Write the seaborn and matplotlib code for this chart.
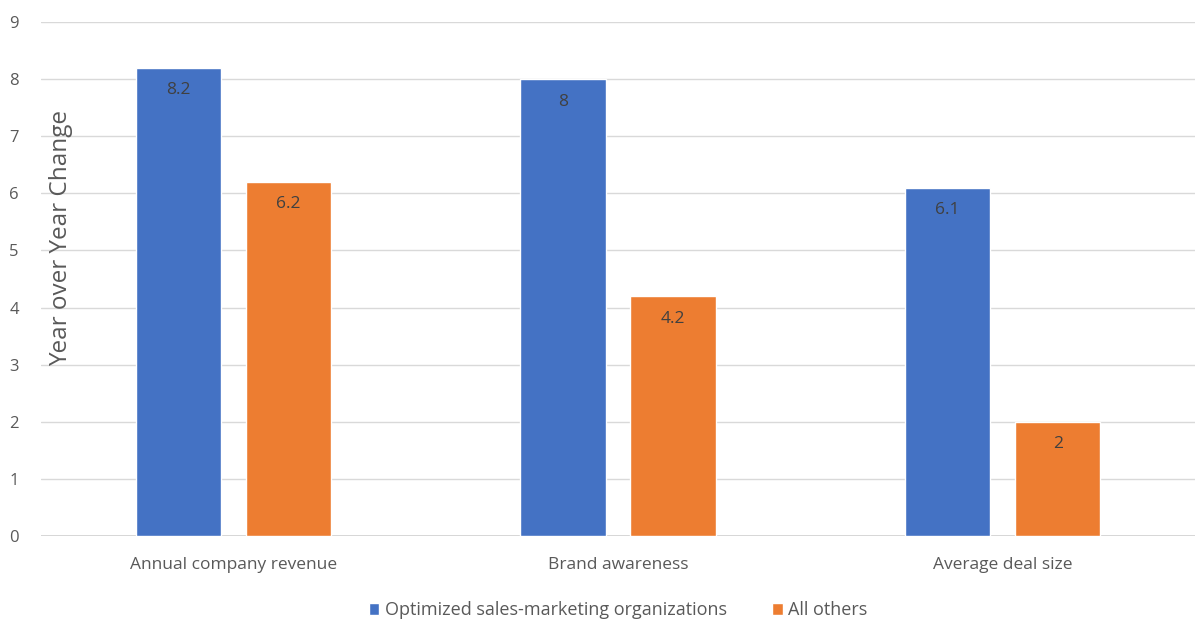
import pandas as pd
import matplotlib.pyplot as plt
import seaborn as sns

# chart values
categories = ['Annual company revenue', 'Brand awareness', 'Average deal size']
series_names = ['Optimized sales-marketing organizations', 'All others']
optimized = [8.2, 8, 6.1]
all_others = [6.2, 4.2, 2]
bar_colors = ['#4472C4', '#ED7D31']

df = pd.DataFrame({
    'category': categories * 2,
    'group': [series_names[0]] * 3 + [series_names[1]] * 3,
    'value': optimized + all_others,
})

sns.set_style('white')
plt.rcParams['font.family'] = ['Open Sans', 'DejaVu Sans']

fig = plt.figure(figsize=(11.95, 6.22), dpi=100)
ax = fig.add_axes([41 / 1195, 1 - 536 / 622, 1154 / 1195, 514 / 622])

sns.barplot(data=df, x='category', y='value', hue='group', palette=bar_colors,
            width=0.572, gap=0.227, ax=ax, saturation=1, legend=True)

ax.set_ylim(0, 9)
ax.set_xlim(-0.5, 2.5)
ax.set_yticks(range(0, 10))
ax.yaxis.grid(True, color='#d9d9d9', linewidth=1)
ax.set_axisbelow(True)
for s in ax.spines.values():
    s.set_visible(False)
ax.axhline(0, color='#d0d0d0', linewidth=1.2, zorder=0)

ax.tick_params(axis='both', length=0, colors='#595959')
ax.tick_params(axis='y', pad=16, labelsize=12)
ax.tick_params(axis='x', pad=15, labelsize=12.5)
ax.set_xlabel('')
ax.set_ylabel('Year over Year Change', fontsize=17.5, color='#595959')
ax.yaxis.set_label_coords(0.028, 0.58)

for cont in ax.containers:
    ax.bar_label(cont, fmt='%g', padding=-22, fontsize=12.5, color='#404040')

handles, labels = ax.get_legend_handles_labels()
ax.legend(handles, labels, loc='lower center', bbox_to_anchor=(0.5, -0.194),
          ncol=2, frameon=False, fontsize=13, labelcolor='#595959',
          handlelength=0.6, handleheight=0.6, handletextpad=0.3, columnspacing=2.5)

fig.savefig('out.png', dpi=100)
